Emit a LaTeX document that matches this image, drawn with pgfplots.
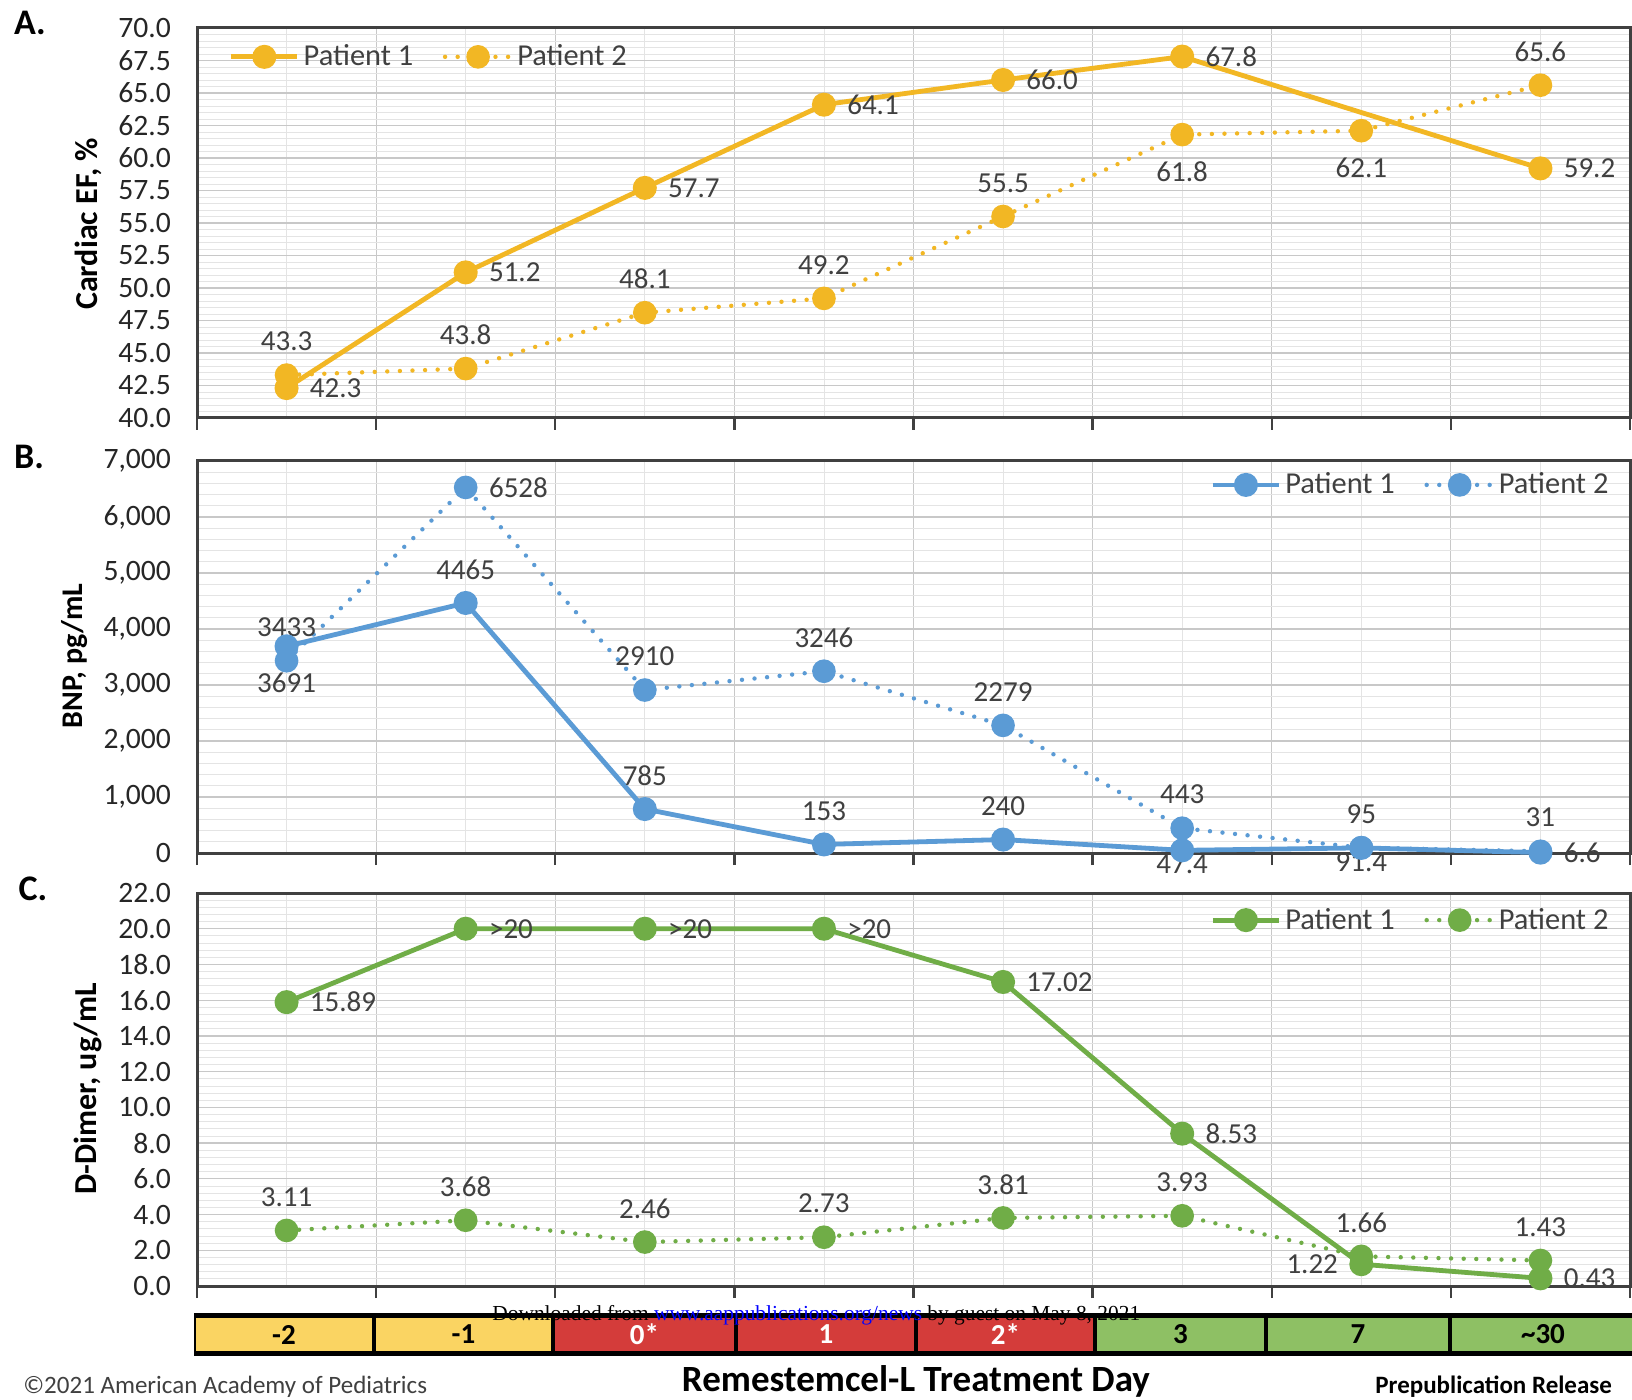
\documentclass[border=0pt]{standalone}
\usepackage{pgfplots}
\pgfplotsset{compat=1.18}
\usepackage{fontspec}
\setmainfont{Carlito}
\newfontfamily\timesf{Liberation Serif}
\definecolor{gold}{RGB}{242,183,36}
\definecolor{bblue}{RGB}{91,155,213}
\definecolor{ggreen}{RGB}{112,173,71}
\definecolor{frame}{RGB}{64,64,64}
\definecolor{gridmaj}{RGB}{200,200,200}
\definecolor{gridmin}{RGB}{228,228,228}
\definecolor{labc}{RGB}{64,64,64}
\definecolor{tickc}{RGB}{38,38,38}
\definecolor{cyel}{RGB}{250,212,98}
\definecolor{cred}{RGB}{212,60,58}
\definecolor{cgrn}{RGB}{142,192,100}
\definecolor{linkblue}{RGB}{0,0,255}
\pgfplotsset{
  panel/.style={
    scale only axis, width=716.5pt, anchor=south west, clip=false,
    xmin=-0.5, xmax=7.5,
    xtick={-0.5,0.5,...,7.5}, xticklabels={},
    minor xtick={0,1,...,7},
    xtick pos=bottom, ytick pos=left,
    tick align=outside, major tick length=6pt, minor tick length=0pt,
    ytick style={draw=none},
    xtick style={draw=frame, line width=1.2pt},
    axis line style={draw=frame, line width=1.5pt},
    grid=both,
    major grid style={draw=gridmaj, line width=0.6pt},
    minor grid style={draw=gridmin, line width=0.4pt},
    /pgf/number format/assume math mode=true,
    ticklabel style={font=\fontsize{14.8}{16}\selectfont, text=tickc},
    yticklabel style={xshift=-3.5pt},
    scaled y ticks=false,
    legend style={draw=none, fill=none, font=\fontsize{15.2}{17}\selectfont, text=labc,
      legend columns=2, anchor=west, inner sep=0pt,
      /tikz/every even column/.append style={column sep=12.8pt}},
    legend image code/.code={\draw[mark repeat=2,mark phase=2,##1] plot coordinates {(0pt,0pt)(16.5pt,0pt)(33pt,0pt)};},
  },
  p1/.style={line width=2.4pt, draw=#1, mark=*, mark size=4.8pt, mark options={solid, fill=#1, draw=#1}},
  p2/.style={line width=2.2pt, draw=#1, line cap=round, dash pattern=on 0pt off 6.3pt, mark=*, mark size=4.8pt, mark options={solid, fill=#1, draw=#1}},
}
\tikzset{
  lbl/.style={inner sep=0pt, text=labc, font=\fontsize{14.5}{16}\selectfont},
  R/.style={lbl, anchor=west, xshift=11.5pt},
  L/.style={lbl, anchor=east, xshift=-11.5pt},
  A/.style={lbl, anchor=center, yshift=16.8pt},
  B/.style={lbl, anchor=center, yshift=-18.5pt},
}
\begin{document}
\begin{tikzpicture}
\clip (0,0) rectangle (816pt,699.5pt);
\fill[white] (0,0) rectangle (816pt,699.5pt);

% ---------------- Panel A ----------------
\begin{axis}[panel, at={(98.5pt,490.5pt)}, height=195pt,
  ymin=40, ymax=70, ytick={40,42.5,...,70}, minor y tick num=4,
  yticklabel style={/pgf/number format/.cd, fixed, fixed zerofill, precision=1},
  legend style={at={(0.022,0.926)}}]
\addplot[p1=gold] coordinates {
  (0,42.3) (1,51.2) (2,57.7) (3,64.1) (4,66.0) (5,67.8) (7,59.2)};
\addplot[p2=gold] coordinates {
  (0,43.3) (1,43.8) (2,48.1) (3,49.2) (4,55.5) (5,61.8) (6,62.1) (7,65.6)};
\legend{Patient 1, Patient 2}
\node[R] at (axis cs:0,42.3) {42.3};
\node[R] at (axis cs:1,51.2) {51.2};
\node[R] at (axis cs:2,57.7) {57.7};
\node[R] at (axis cs:3,64.1) {64.1};
\node[R] at (axis cs:4,66.0) {66.0};
\node[R] at (axis cs:5,67.8) {67.8};
\node[R] at (axis cs:7,59.2) {59.2};
\node[A] at (axis cs:0,43.3) {43.3};
\node[A] at (axis cs:1,43.8) {43.8};
\node[A] at (axis cs:2,48.1) {48.1};
\node[A] at (axis cs:3,49.2) {49.2};
\node[A] at (axis cs:4,55.5) {55.5};
\node[B] at (axis cs:5,61.8) {61.8};
\node[B] at (axis cs:6,62.1) {62.1};
\node[A] at (axis cs:7,65.6) {65.6};
\end{axis}

% ---------------- Panel B ----------------
\begin{axis}[panel, at={(98.5pt,273pt)}, height=196pt,
  ymin=0, ymax=7000, ytick={0,1000,...,7000}, minor y tick num=4,
  yticklabel style={/pgf/number format/.cd, fixed, 1000 sep={,}},
  legend style={at={(0.707,0.939)}}]
\addplot[p1=bblue] coordinates {
  (0,3691) (1,4465) (2,785) (3,153) (4,240) (5,47.4) (6,91.4) (7,6.6)};
\addplot[p2=bblue] coordinates {
  (0,3433) (1,6528) (2,2910) (3,3246) (4,2279) (5,443) (6,95) (7,31)};
\legend{Patient 1, Patient 2}
\node[B] at (axis cs:0,3691) {3691};
\node[A] at (axis cs:1,4465) {4465};
\node[A] at (axis cs:2,785) {785};
\node[A] at (axis cs:3,153) {153};
\node[A] at (axis cs:4,240) {240};
\node[lbl, yshift=-7pt] at (axis cs:5,47.4) {47.4};
\node[lbl, yshift=-7pt] at (axis cs:6,91.4) {91.4};
\node[R] at (axis cs:7,6.6) {6.6};
\node[A] at (axis cs:0,3433) {3433};
\node[R] at (axis cs:1,6528) {6528};
\node[A] at (axis cs:2,2910) {2910};
\node[A] at (axis cs:3,3246) {3246};
\node[A] at (axis cs:4,2279) {2279};
\node[A] at (axis cs:5,443) {443};
\node[A] at (axis cs:6,95) {95};
\node[A] at (axis cs:7,31) {31};
\end{axis}

% ---------------- Panel C ----------------
\begin{axis}[panel, at={(98.5pt,56.5pt)}, height=196.5pt,
  ymin=0, ymax=22, ytick={0,2,...,22}, minor y tick num=4,
  yticklabel style={/pgf/number format/.cd, fixed, fixed zerofill, precision=1},
  legend style={at={(0.707,0.931)}}]
\addplot[p1=ggreen] coordinates {
  (0,15.89) (1,20) (2,20) (3,20) (4,17.02) (5,8.53) (6,1.22) (7,0.43)};
\addplot[p2=ggreen] coordinates {
  (0,3.11) (1,3.68) (2,2.46) (3,2.73) (4,3.81) (5,3.93) (6,1.66) (7,1.43)};
\legend{Patient 1, Patient 2}
\node[R] at (axis cs:0,15.89) {15.89};
\node[R] at (axis cs:1,20) {>20};
\node[R] at (axis cs:2,20) {>20};
\node[R] at (axis cs:3,20) {>20};
\node[R] at (axis cs:4,17.02) {17.02};
\node[R] at (axis cs:5,8.53) {8.53};
\node[L] at (axis cs:6,1.22) {1.22};
\node[R] at (axis cs:7,0.43) {0.43};
\node[A] at (axis cs:0,3.11) {3.11};
\node[A] at (axis cs:1,3.68) {3.68};
\node[A] at (axis cs:2,2.46) {2.46};
\node[A] at (axis cs:3,2.73) {2.73};
\node[A] at (axis cs:4,3.81) {3.81};
\node[A] at (axis cs:5,3.93) {3.93};
\node[A] at (axis cs:6,1.66) {1.66};
\node[A] at (axis cs:7,1.43) {1.43};
\end{axis}

% axis titles and panel letters
\node[rotate=90, font=\bfseries\fontsize{16}{18}\selectfont, text=black] at (44pt,587.5pt) {Cardiac EF, \%};
\node[rotate=90, font=\bfseries\fontsize{15}{17}\selectfont, text=black] at (37.5pt,371.5pt) {BNP, pg/mL};
\node[rotate=90, font=\bfseries\fontsize{16}{18}\selectfont, text=black] at (44pt,155pt) {D-Dimer, ug/mL};
\node[font=\bfseries\fontsize{18}{20}\selectfont] at (15pt,688pt) {A.};
\node[font=\bfseries\fontsize{18}{20}\selectfont] at (14.5pt,471pt) {B.};
\node[font=\bfseries\fontsize{18}{20}\selectfont] at (16.5pt,255pt) {C.};

% treatment day strip
\fill[black] (97pt,21.5pt) rectangle (816pt,43pt);
\foreach \xa/\xb/\c/\t/\tc in {97/187/cyel/-2/black, 187/276.5/cyel/-1/black, 276.5/368/cred/0*/white, 368/458/cred/1/white, 458/547.5/cred/2*/white, 547.5/633/cgrn/3/black, 633/725/cgrn/7/black, 725/818/cgrn/{\char`\~30}/black}{
  \fill[\c] (\xa pt+0.8pt,24pt) rectangle (\xb pt-0.8pt,40.5pt);
  \node[font=\bfseries\fontsize{14.5}{16}\selectfont, text=\tc] at ({(\xa+\xb)/2*1pt},32.25pt) {\t};
}
\node[anchor=base west, inner sep=0pt, font=\timesf\fontsize{10.7}{12}\selectfont] at (246pt,39.5pt) {Downloaded from \textcolor{linkblue}{www.aappublications.org/news} by guest on May 8, 2021};
\node[anchor=base, inner sep=0pt, font=\bfseries\fontsize{18.5}{20}\selectfont] at (458pt,4pt) {Remestemcel-L Treatment Day};
\node[anchor=base west, inner sep=0pt, font=\fontsize{12.5}{14}\selectfont, text=labc] at (11.5pt,3pt) {©2021 American Academy of Pediatrics};
\node[anchor=base west, inner sep=0pt, font=\bfseries\fontsize{12.5}{14}\selectfont] at (687.5pt,3pt) {Prepublication Release};
\end{tikzpicture}
\end{document}
